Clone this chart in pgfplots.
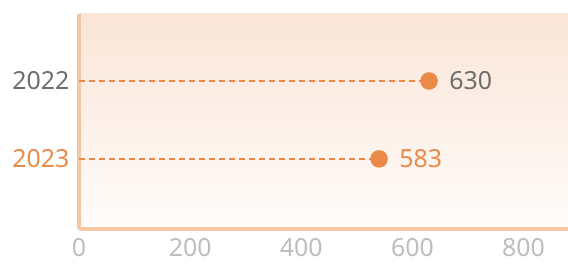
\documentclass[border=0pt]{standalone}
\usepackage{fontspec}
\setmainfont{Noto Sans}
\usepackage{pgfplots}
\pgfplotsset{compat=1.18}
\definecolor{org}{HTML}{EB8A48}
\definecolor{axl}{HTML}{F5C6A3}
\definecolor{bgtop}{HTML}{FAE5D8}
\definecolor{bgbot}{HTML}{FFFCFA}
\definecolor{lab}{HTML}{6E6E6E}
\definecolor{tck}{HTML}{BDBDBD}
\begin{document}
\begin{tikzpicture}
\begin{axis}[
 at={(0,0)}, anchor=south west,
 scale only axis, width=489bp, height=215bp,
 xmin=0, xmax=880, ymin=-0.9, ymax=1.86,
 axis x line*=bottom, axis y line*=left,
 axis line style={axl, line width=3bp, -},
 axis background/.style={top color=bgtop, bottom color=bgbot},
 xtick={0,200,400,600,800},
 ytick={0,1}, yticklabels={\textcolor{org}{2023},\textcolor{lab}{2022}},
 major tick length=0pt,
 tick label style={font=\fontsize{25}{25}\selectfont},
 xticklabel style={text=tck, anchor=north, inner sep=0pt, yshift=-9bp},
 yticklabel style={xshift=-6bp},
 /pgf/number format/assume math mode=true,
 clip=false,
]
\addplot[xcomb, org, line width=2.5bp, dash pattern=on 6bp off 4bp,
  mark=*, mark size=7.5bp, mark options={solid, fill=org, draw=org},
  nodes near coords={630},
  every node near coord/.style={anchor=west, inner sep=0pt, xshift=19bp, text=lab, font=\fontsize{25}{25}\selectfont}]
  coordinates {(630,1)};
\addplot[xcomb, org, line width=2.5bp, dash pattern=on 6bp off 4bp,
  mark=*, mark size=7.5bp, mark options={solid, fill=org, draw=org},
  nodes near coords={583},
  every node near coord/.style={anchor=west, inner sep=0pt, xshift=19bp, text=org, font=\fontsize{25}{25}\selectfont}]
  coordinates {(540,0)};
\end{axis}
\pgfresetboundingbox
\path (-79bp,-35bp) rectangle (489bp,229bp);
\end{tikzpicture}
\end{document}
